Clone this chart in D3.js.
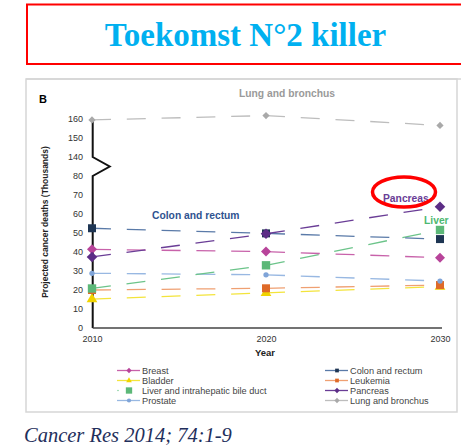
<!DOCTYPE html>
<html>
<head>
<meta charset="utf-8">
<script src="https://cdn.jsdelivr.net/npm/d3@7"></script>
<style>
  body { margin: 0; background: #fff; }
  svg { display: block; }
  .tick text { font-family: "Liberation Sans", Arial, sans-serif; font-size: 9px; fill: #333; }
</style>
</head>
<body>
<svg width="461" height="446"></svg>
<script>
const svg = d3.select("svg");

// data (thousands of deaths)
const years = [2010, 2020, 2030];
const seriesNames = ["Lung and bronchus", "Bladder", "Leukemia", "Prostate",
  "Liver and intrahepatic bile duct", "Breast", "Colon and rectum", "Pancreas"];
const lung = [159.5, 161.8, 156.6];
const bladder = [15.2, 18.5, 21.8];
const leukemia = [20, 20.9, 22.6];
const prostate = [28.8, 28.0, 24.7];
const liver = [20.8, 33, 51.6];
const breast = [41.4, 40.2, 37];
const colon = [52.5, 49.8, 46.8];
const pancreas = [37.4, 49.6, 63.8];
const yTicks = [0, 10, 20, 30, 40, 50, 60, 70, 80, 140, 150, 160];

// rot: draw square turned 45 degrees (diamond)
const styles = {
  "Lung and bronchus": { line: "#bdbdbd", mark: "#a9a9a9", sym: d3.symbolSquare, size: 26, rot: 45 },
  "Bladder": { line: "#f3e43c", mark: "#f0d400", sym: d3.symbolTriangle, size: 50, rot: 0 },
  "Leukemia": { line: "#efa072", mark: "#df6a28", sym: d3.symbolSquare, size: 64, rot: 0 },
  "Prostate": { line: "#98b8e2", mark: "#7fa4d8", sym: d3.symbolCircle, size: 22, rot: 0 },
  "Liver and intrahepatic bile duct": { line: "#6cc48a", mark: "#5cb878", sym: d3.symbolSquare, size: 70, rot: 0 },
  "Breast": { line: "#c862aa", mark: "#b8449a", sym: d3.symbolSquare, size: 50, rot: 45 },
  "Colon and rectum": { line: "#5a7aa8", mark: "#1e3553", sym: d3.symbolSquare, size: 64, rot: 0 },
  "Pancreas": { line: "#6a3d96", mark: "#5c2d86", sym: d3.symbolSquare, size: 56, rot: 45 }
};
const values = [lung, bladder, leukemia, prostate, liver, breast, colon, pancreas];

// title box
svg.append("rect").attr("x", 27).attr("y", 4.5).attr("width", 450).attr("height", 59.5)
  .attr("fill", "none").attr("stroke", "#ff0000").attr("stroke-width", 2);
svg.append("text").attr("x", 245.5).attr("y", 45.5).attr("text-anchor", "middle")
  .attr("font-family", "Liberation Serif, Times New Roman, serif").attr("font-weight", "bold")
  .attr("font-size", 33).attr("fill", "#00b0f0").text("Toekomst N°2 killer");

// figure panel
svg.append("rect").attr("x", 26).attr("y", 79).attr("width", 431).attr("height", 333)
  .attr("fill", "#fff").attr("stroke", "#d6d6d6").attr("stroke-width", 1.5);
svg.append("line").attr("x1", 26).attr("x2", 461).attr("y1", 79).attr("y2", 79)
  .attr("stroke", "#d6d6d6").attr("stroke-width", 1.5);

svg.append("text").attr("x", 39).attr("y", 103)
  .attr("font-family", "Liberation Sans, Arial, sans-serif").attr("font-weight", "bold")
  .attr("font-size", 11).text("B");

// scales: broken axis, 80 -> 140 collapsed into one tick step
const x = d3.scaleLinear().domain([2010, 2030]).range([92, 440]);
const yLin = d3.scaleLinear().domain([0, 110]).range([328, 119]);
const squash = v => v <= 80 ? v : v - 50;
const y = v => yLin(squash(v));

// y axis labels
const yAxis = svg.append("g").attr("transform", "translate(83,0)")
  .call(d3.axisLeft(yLin).tickValues(yTicks.map(squash)).tickSize(0).tickPadding(0)
    .tickFormat(d => d > 80 ? d + 50 : d));
yAxis.select(".domain").remove();

// y axis line with zigzag break
const x0 = x(2010) + 0.7;
const yb1 = y(140), yb2 = y(80);
svg.append("path")
  .attr("d", d3.line()([[x0, y(160)], [x0, yb1], [x0 + 17, (yb1 + yb2) / 2], [x0, yb2], [x0, y(0)]]))
  .attr("fill", "none").attr("stroke", "#111").attr("stroke-width", 2);

// x axis
const xAxis = svg.append("g").attr("transform", `translate(0,${y(0)})`)
  .call(d3.axisBottom(x).tickValues(years).tickSize(0).tickPadding(8).tickFormat(d3.format("d")));
xAxis.select(".domain").attr("stroke", "#444").attr("stroke-width", 1.5)
  .attr("d", `M${x0},0H442`);

svg.append("text").attr("x", 265).attr("y", 356).attr("text-anchor", "middle")
  .attr("font-family", "Liberation Sans, Arial, sans-serif").attr("font-weight", "bold")
  .attr("font-size", 9.5).attr("fill", "#222").text("Year");

svg.append("text").attr("transform", "translate(48,222) rotate(-90)").attr("text-anchor", "middle")
  .attr("font-family", "Liberation Sans, Arial, sans-serif").attr("font-weight", "bold")
  .attr("font-size", 8.5).attr("fill", "#222").text("Projected cancer deaths (Thousands)");

// series
const line = d3.line().x(d => x(d[0])).y(d => y(d[1]));
seriesNames.forEach((name, i) => {
  const st = styles[name];
  const pts = years.map((yr, j) => [yr, values[i][j]]);
  for (let j = 0; j < pts.length - 1; j++) {
    svg.append("path").attr("d", line([pts[j], pts[j + 1]]))
      .attr("fill", "none").attr("stroke", st.line).attr("stroke-width", 1.3)
      .attr("stroke-dasharray", "19,15.8");
  }
});
seriesNames.forEach((name, i) => {
  const st = styles[name];
  svg.append("g").selectAll("path").data(years.map((yr, j) => [yr, values[i][j]]))
    .join("path")
    .attr("transform", d => `translate(${x(d[0])},${y(d[1])}) rotate(${st.rot})`)
    .attr("d", d3.symbol().type(st.sym).size(st.size))
    .attr("fill", st.mark);
});

// annotations
const annFont = "Liberation Sans, Arial, sans-serif";
const ann = [
  { t: "Lung and bronchus", x: 239, y: 97, c: "#9a9a9a" },
  { t: "Colon and rectum", x: 152, y: 219, c: "#2f5390" },
  { t: "Pancreas", x: 383, y: 202, c: "#6a3d96" },
  { t: "Liver", x: 424, y: 224, c: "#4db870" }
];
svg.append("g").selectAll("text").data(ann).join("text")
  .attr("x", d => d.x).attr("y", d => d.y).attr("fill", d => d.c)
  .attr("font-family", annFont).attr("font-weight", "bold").attr("font-size", 10.3)
  .text(d => d.t);

svg.append("ellipse").attr("cx", 404).attr("cy", 192).attr("rx", 31.5).attr("ry", 15)
  .attr("fill", "none").attr("stroke", "#ff0000").attr("stroke-width", 3.5);

// legend
const legendOrder = ["Breast", "Colon and rectum", "Bladder", "Leukemia",
  "Liver and intrahepatic bile duct", "Pancreas", "Prostate", "Lung and bronchus"];
const legend = svg.append("g").selectAll("g").data(legendOrder).join("g")
  .attr("transform", (d, i) => `translate(${i % 2 ? 325 : 117},${370.5 + Math.floor(i / 2) * 10})`);
legend.each(function (d) {
  const g = d3.select(this), st = styles[d];
  if (d !== "Liver and intrahepatic bile duct") {
    g.append("line").attr("x1", 0).attr("x2", 23).attr("stroke", st.line).attr("stroke-width", 1.3);
  } else {
    g.append("circle").attr("cx", 1).attr("r", 0.7).attr("fill", st.line);
  }
  g.append("path").attr("transform", `translate(12,0) rotate(${st.rot})`)
    .attr("d", d3.symbol().type(st.sym).size(d === "Liver and intrahepatic bile duct" ? 40 : 14))
    .attr("fill", st.mark);
  g.append("text").attr("x", 25).attr("y", 3.2).attr("font-family", annFont)
    .attr("font-size", 9.2).attr("fill", "#444").text(d);
});

// citation
svg.append("text").attr("x", 24).attr("y", 442)
  .attr("font-family", "Liberation Serif, Times New Roman, serif").attr("font-style", "italic")
  .attr("font-size", 20.5).attr("fill", "#1f2f5c").text("Cancer Res 2014; 74:1-9");
</script>
</body>
</html>
